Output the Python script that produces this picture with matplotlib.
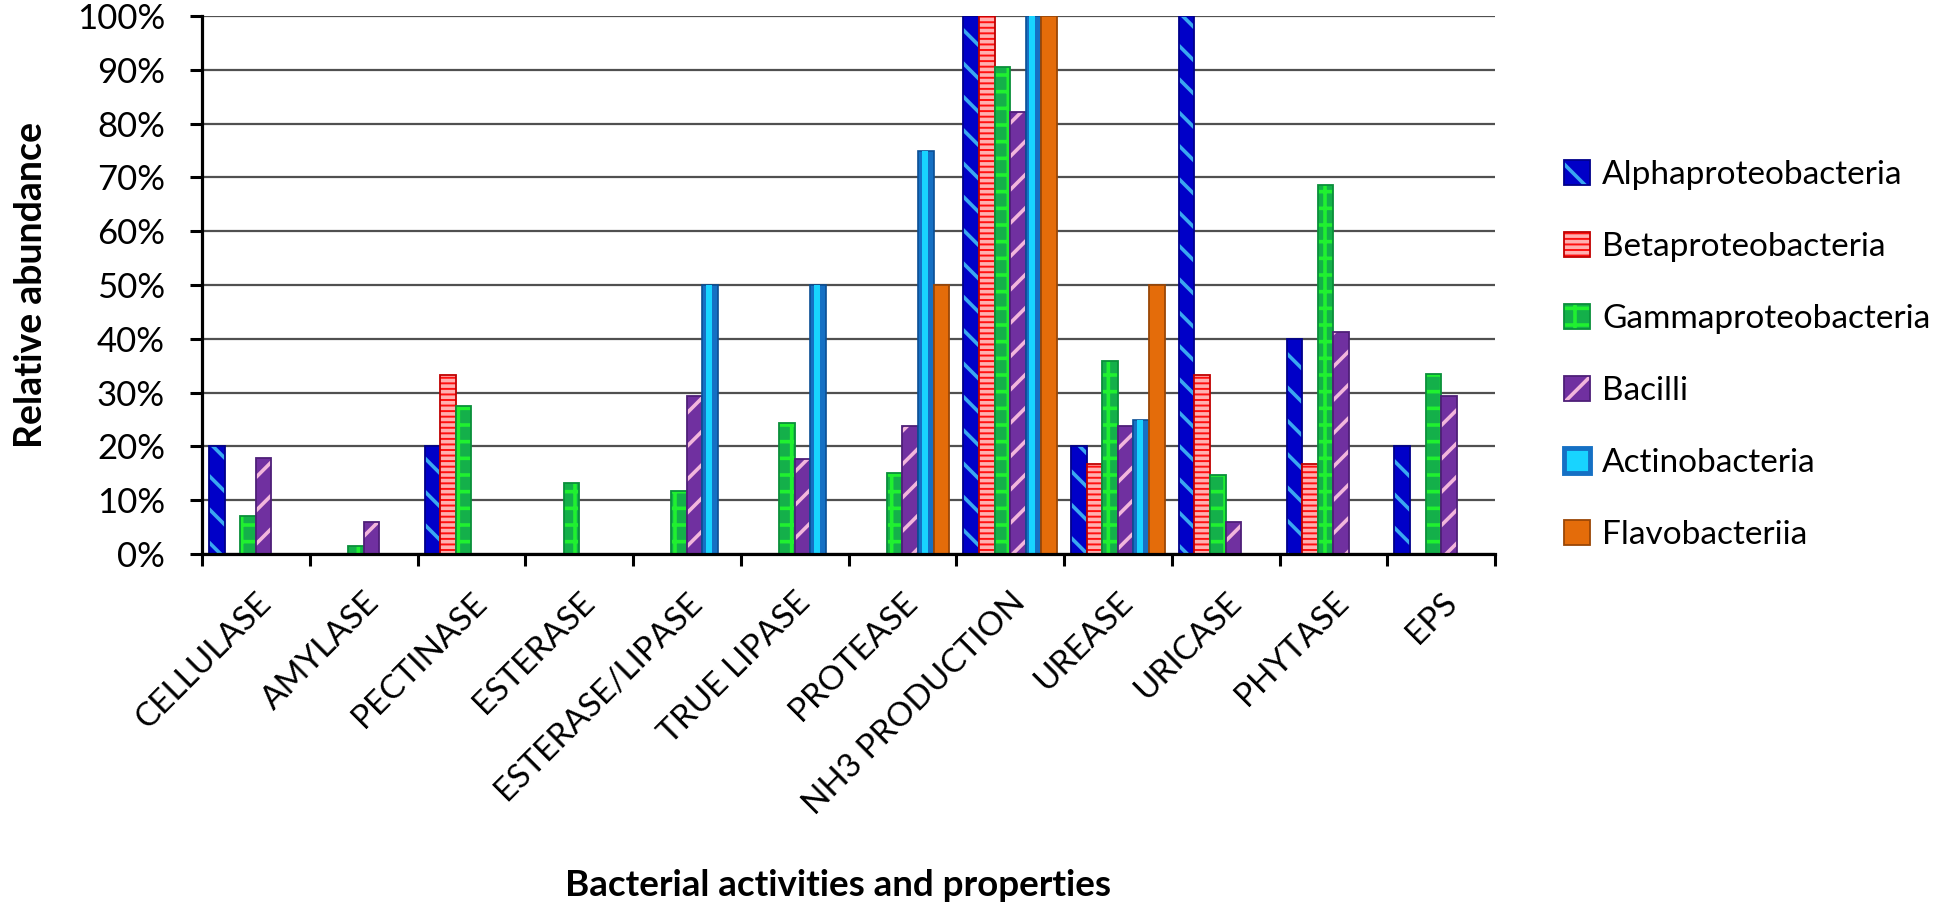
import matplotlib
matplotlib.use("Agg")
import matplotlib.pyplot as plt
from matplotlib.patches import Patch
from matplotlib.ticker import FixedLocator, FuncFormatter
import numpy as np

categories = ["CELLULASE", "AMYLASE", "PECTINASE", "ESTERASE", "ESTERASE/LIPASE",
              "TRUE LIPASE", "PROTEASE", "NH3 PRODUCTION", "UREASE", "URICASE",
              "PHYTASE", "EPS"]
series_names = ["Alphaproteobacteria", "Betaproteobacteria", "Gammaproteobacteria",
                "Bacilli", "Actinobacteria", "Flavobacteriia"]
alpha = [20, 0, 20, 0, 0, 0, 0, 100, 20, 100, 40, 20]
beta = [0, 0, 33.3, 0, 0, 0, 0, 100, 16.7, 33.3, 16.7, 0]
gamma = [7.1, 1.5, 27.6, 13.2, 11.8, 24.4, 15.0, 90.6, 35.9, 14.6, 68.6, 33.5]
bacilli = [17.8, 6.0, 0, 0, 29.4, 17.7, 23.8, 82.2, 23.8, 6.0, 41.2, 29.4]
actino = [0, 0, 0, 0, 50, 50, 75, 100, 25, 0, 0, 0]
flavo = [0, 0, 0, 0, 0, 0, 50, 100, 50, 0, 0, 0]
yticks = [0, 10, 20, 30, 40, 50, 60, 70, 80, 90, 100]

plt.rcParams['font.family'] = ['Lato', 'DejaVu Sans']
plt.rcParams['hatch.linewidth'] = 2.6

fig = plt.figure(figsize=(19.5, 9.13), dpi=100)
ax = fig.add_axes([202/1950, 1-554/913, (1495-202)/1950, (554-16)/913])

styles = [
    dict(face='#0000C8', hatchc='#3AA8F0', hatch='\\', edge='#00008A'),
    dict(face='#FF1010', hatchc='#FFB0B0', hatch='---', edge='#C00000'),
    dict(face='#14B04A', hatchc='#20F030', hatch='+', edge='#0A8F3A'),
    dict(face='#7030A0', hatchc='#F2B6DC', hatch='/', edge='#4E1F78'),
    dict(face='#1570C4', hatchc=None, hatch=None, edge='#0B4F95'),
    dict(face='#E46C0A', hatchc=None, hatch=None, edge='#9A4706'),
]
data = [alpha, beta, gamma, bacilli, actino, flavo]

x = np.arange(len(categories))
w = 0.145
handles = []
for j, (vals, st) in enumerate(zip(data, styles)):
    xs = x + (j - 2.5) * w
    if j == 4:
        ax.bar(xs, vals, w, color=st['face'], edgecolor=st['edge'], linewidth=1.2)
        ax.bar(xs - w * 0.08, vals, w * 0.38, color='#18D4FF', linewidth=0)
        handles.append(Patch(facecolor='#18D4FF', edgecolor='#1570C4', linewidth=3.5))
    elif st['hatch']:
        ax.bar(xs, vals, w, color=st['face'], edgecolor=st['hatchc'],
               hatch=st['hatch'], linewidth=0)
        ax.bar(xs, vals, w, facecolor='none', edgecolor=st['edge'], linewidth=1.3)
        handles.append((Patch(facecolor=st['face'], edgecolor=st['hatchc'],
                              hatch=st['hatch'], linewidth=0),
                        Patch(facecolor='none', edgecolor=st['edge'], linewidth=1.3)))
    else:
        ax.bar(xs, vals, w, color=st['face'], edgecolor=st['edge'], linewidth=1.3)
        handles.append(Patch(facecolor=st['face'], edgecolor=st['edge'], linewidth=1.3))

ax.set_xlim(-0.5, len(categories) - 0.5)
ax.set_ylim(0, 100)
ax.set_yticks(yticks)
ax.yaxis.set_major_formatter(FuncFormatter(lambda v, p: f"{int(v)}%"))
ax.set_axisbelow(True)
ax.yaxis.grid(True, color='#505050', linewidth=1.6)
for s in ['top', 'right']:
    ax.spines[s].set_visible(False)
for s in ['left', 'bottom']:
    ax.spines[s].set_linewidth(2.3)
    ax.spines[s].set_color('black')

ax.tick_params(axis='y', direction='out', length=8.6, width=2.2, pad=18, labelsize=25)
ax.set_xticks(x)
ax.set_xticklabels(categories, rotation=45, ha='right', va='top',
                   rotation_mode='anchor', fontsize=24)
ax.tick_params(axis='x', which='major', length=0, pad=24)
ax.xaxis.set_minor_locator(FixedLocator(np.arange(-0.5, len(categories), 1.0)))
ax.tick_params(axis='x', which='minor', direction='out', length=8.6, width=2.2)

fig.text(31/1950, 1-285/913, 'Relative abundance', rotation=90, ha='center',
         va='center', fontsize=27, fontweight='bold')
fig.text(838/1950, 1-885/913, 'Bacterial activities and properties', ha='center',
         va='center', fontsize=26.5, fontweight='bold')

leg = fig.legend(handles, series_names, loc='center left',
                 bbox_to_anchor=(1547/1950, 1-355/913), frameon=False,
                 fontsize=24, borderpad=0, handlelength=0.8, handleheight=0.75,
                 handletextpad=0.35, labelspacing=1.26)

fig.savefig('out.png', dpi=100)
